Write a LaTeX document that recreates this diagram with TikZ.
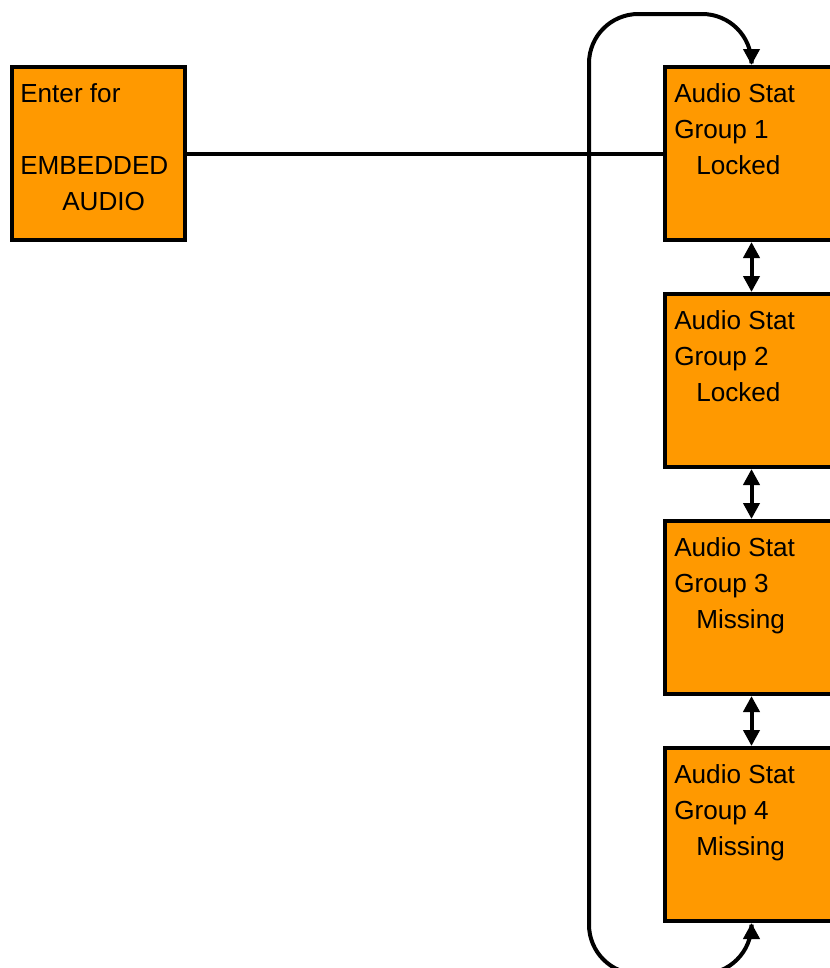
\documentclass[tikz,border=0pt]{standalone}
\usepackage{fontspec}
\setmainfont{Liberation Sans}
\usetikzlibrary{arrows.meta}
\definecolor{boxorange}{HTML}{FF9900}
\begin{document}
\begin{tikzpicture}[x=0.75pt,y=-0.75pt,
  box/.style={draw=black,fill=boxorange,line width=3pt,minimum width=129.75pt,minimum height=129.75pt,inner sep=0pt},
  txt/.style={anchor=base west,inner sep=0pt,font=\fontsize{19.6}{27}\selectfont},
  conn/.style={line width=3pt},
  dbl/.style={conn,{Triangle[length=12pt,width=12pt]}-{Triangle[length=12pt,width=12pt]}}]
\useasboundingbox (0,0) rectangle (830,968);
% left box
\node[box] (b0) at (98.5,153.5) {};
\node[txt] (t0a) at (20,102.5) {Enter for};
\node[txt] (t0b) at (20,174.5) {EMBEDDED};
\node[txt] (t0c) at (62,210.5) {AUDIO};
% right boxes
\foreach \i/\st in {1/Locked,2/Locked,3/Missing,4/Missing}{
  \pgfmathsetmacro{\yc}{153.5+227*(\i-1)}
  \pgfmathsetmacro{\yb}{102.5+227*(\i-1)}
  \node[box] (b\i) at (751.5,\yc) {};
  \node[txt] (ta\i) at (674,\yb) {Audio Stat};
  \node[txt] (tb\i) at (674,\yb+36) {Group \i};
  \node[txt] (tc\i) at (696,\yb+72) {\st};
}
% connector from left box
\draw[conn] (b0.east) -- (b1.west);
% double arrows between boxes
\draw[dbl] (b1.south) -- (b2.north);
\draw[dbl] (b2.south) -- (b3.north);
\draw[dbl] (b3.south) -- (b4.north);
% loop
\coordinate (lb) at (751.5,974);
\coordinate (lt) at (589,14);
\draw[dbl,rounded corners=37pt]
  (b4.south) -- (lb) -| (lt) -| (b1.north);
\end{tikzpicture}
\end{document}
